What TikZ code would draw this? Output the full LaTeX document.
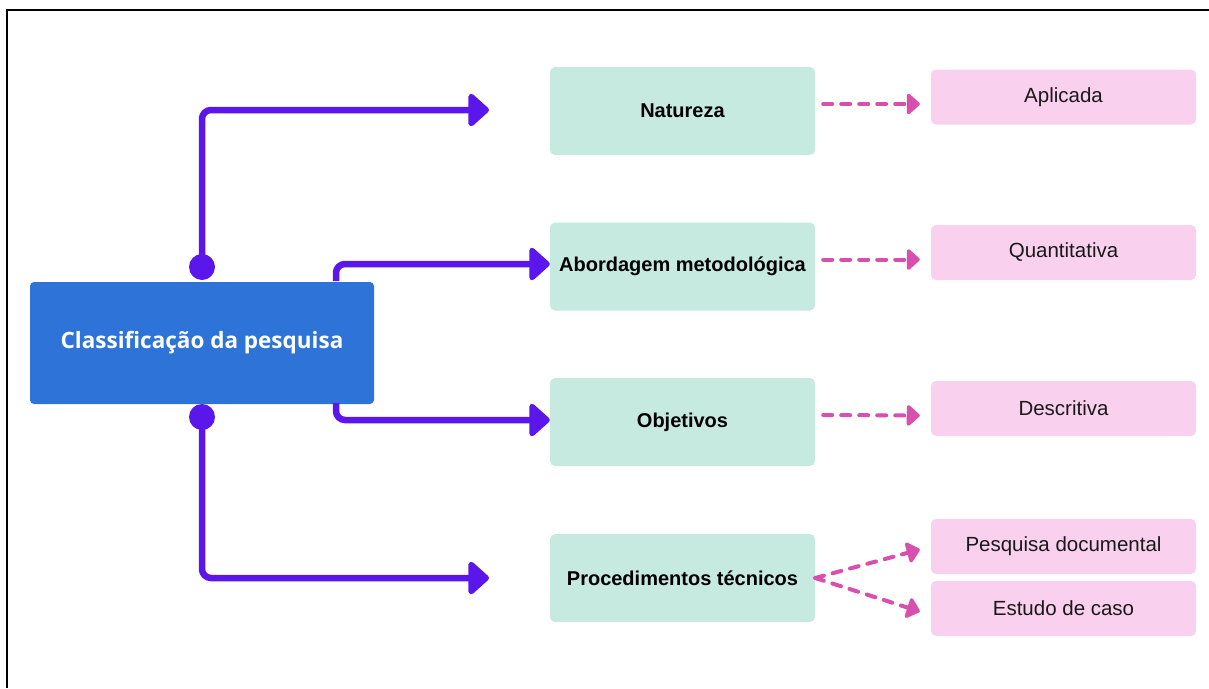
\documentclass[tikz,border=0pt]{standalone}
\usepackage{fontspec}
\setmainfont{Liberation Sans}
\newfontfamily\headfont{Open Sans}
\usetikzlibrary{arrows.meta,positioning,calc}
\definecolor{HeadBlue}{HTML}{2E74D8}
\definecolor{TopicGreen}{HTML}{C6EAE0}
\definecolor{OptPink}{HTML}{F9D0EE}
\definecolor{LinkViolet}{HTML}{5B16EB}
\definecolor{DashPink}{HTML}{D94FB0}

\begin{document}
\begin{tikzpicture}[
    x=1pt, y=-1pt,
    head/.style={rectangle, rounded corners=4pt, fill=HeadBlue, text=white,
                 minimum width=344pt, minimum height=122pt, inner sep=0pt,
                 font=\headfont\bfseries\fontsize{22.5}{26}\selectfont},
    topic/.style={rectangle, rounded corners=5pt, fill=TopicGreen, text=black,
                  minimum width=265pt, minimum height=88pt, inner sep=0pt,
                  font=\bfseries\fontsize{20}{24}\selectfont},
    option/.style={rectangle, rounded corners=5pt, fill=OptPink, text=black!90,
                   minimum width=265pt, minimum height=55pt, inner sep=0pt,
                   font=\fontsize{20.5}{24}\selectfont},
    dot/.style={circle, fill=LinkViolet, minimum size=26pt, inner sep=0pt},
    link/.style={-{Triangle[length=22pt,width=38pt,round]}, line width=6.5pt,
                 LinkViolet, rounded corners=9pt},
    dashlink/.style={-{Triangle[length=14pt,width=24pt,round]}, line width=4pt,
                     DashPink, line cap=round, dash pattern=on 9pt off 9pt}
]
\useasboundingbox (0,0) rectangle (1209,688);

% frame
\draw[line width=2pt] (7,688) -- (7,10) -- (1209,10);

% nodes
\node[head] (cls) at (202,343) {Classificação da pesquisa};

\node[topic] (nat) at (682.5,111) {Natureza};
\node[topic] (abo) at (682.5,266.5) {Abordagem metodológica};
\node[topic] (obj) at (682.5,422) {Objetivos};
\node[topic] (proc) at (682.5,578) {Procedimentos técnicos};

\node[option] (apl) at (1063.5,97) {Aplicada};
\node[option] (qua) at (1063.5,252.5) {Quantitativa};
\node[option] (des) at (1063.5,408.5) {Descritiva};
\node[option] (doc) at (1063.5,546.5) {Pesquisa documental};
\node[option] (est) at (1063.5,608.5) {Estudo de caso};

% connectors from the main box
\node[dot] (dtop) at (202,267) {};
\node[dot] (dbot) at (202,417) {};
\coordinate (natin) at (489,110);
\coordinate (procin) at (489,578);
\coordinate (abofrom) at (336,281);
\coordinate (objfrom) at (336,403);

\draw[link] (dtop.center) |- (natin);
\draw[link] (abofrom) |- (abo.west |- 0,264);
\draw[link] (objfrom) |- (obj.west |- 0,420);
\draw[link] (dbot.center) |- (procin);

% dashed links to the options
\draw[dashlink] ([xshift=8pt,yshift=7pt]nat.east) -- ([xshift=-11pt,yshift=-7pt]apl.west);
\draw[dashlink] ([xshift=8pt,yshift=7pt]abo.east) -- ([xshift=-11pt,yshift=-7pt]qua.west);
\draw[dashlink] ([xshift=8pt,yshift=7pt]obj.east) -- ([xshift=-11pt,yshift=-7pt]des.west);
\draw[dashlink] (proc.east) -- ([xshift=-11pt,yshift=-3pt]doc.west);
\draw[dashlink] (proc.east) -- ([xshift=-11pt,yshift=-3pt]est.west);

\end{tikzpicture}
\end{document}
